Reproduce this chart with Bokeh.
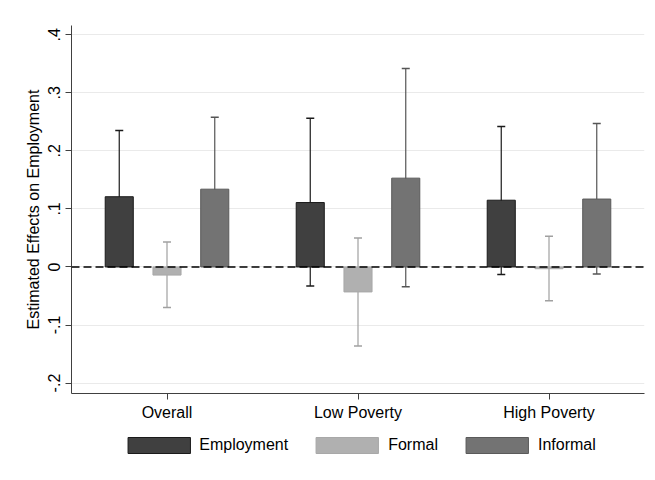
from bokeh.plotting import figure
from bokeh.layouts import column
from bokeh.models import (Range1d, FixedTicker, Span, Whisker, ColumnDataSource,
                          TeeHead, Legend, LegendItem)
from bokeh.embed import file_html
from bokeh.resources import INLINE

categories = ["Overall", "Low Poverty", "High Poverty"]
series_names = ["Employment", "Formal", "Informal"]

employment = [0.121, 0.111, 0.115]
employment_lo = [0.007, -0.033, -0.013]
employment_hi = [0.235, 0.256, 0.242]

formal = [-0.014, -0.043, -0.003]
formal_lo = [-0.070, -0.136, -0.058]
formal_hi = [0.043, 0.050, 0.053]

informal = [0.134, 0.153, 0.117]
informal_lo = [0.010, -0.034, -0.012]
informal_hi = [0.258, 0.342, 0.247]

y_ticks = [-0.2, -0.1, 0.0, 0.1, 0.2, 0.3, 0.4]
y_tick_labels = ["-.2", "-.1", "0", ".1", ".2", ".3", ".4"]

FONT = "Liberation Sans"

p = figure(frame_width=573, frame_height=368, output_backend="svg", toolbar_location=None,
           x_range=Range1d(0.5, 3.5), y_range=Range1d(-0.218, 0.416),
           min_border_left=71, min_border_right=8, min_border_top=25,
           min_border_bottom=35)
p.outline_line_color = None
p.background_fill_color = "white"
p.border_fill_color = "white"

# axes
p.xaxis.ticker = FixedTicker(ticks=[1, 2, 3])
p.xaxis.major_label_overrides = {1: categories[0], 2: categories[1], 3: categories[2]}
p.xaxis.minor_tick_line_color = None
p.xaxis.major_tick_out = 6
p.xaxis.major_tick_in = 0
p.xaxis.major_label_standoff = 4
p.xaxis.axis_line_color = "#404040"
p.xaxis.major_tick_line_color = "#404040"
p.xaxis.major_label_text_font = FONT
p.xaxis.major_label_text_font_size = "16px"
p.xaxis.major_label_text_color = "black"

p.yaxis.ticker = FixedTicker(ticks=y_ticks)
p.yaxis.major_label_overrides = dict(zip(y_ticks, y_tick_labels))
p.yaxis.major_label_orientation = "vertical"
p.yaxis.minor_tick_line_color = None
p.yaxis.major_tick_out = 6
p.yaxis.major_tick_in = 0
p.yaxis.major_label_standoff = 5
p.yaxis.axis_line_color = "#404040"
p.yaxis.major_tick_line_color = "#404040"
p.yaxis.major_label_text_font = FONT
p.yaxis.major_label_text_font_size = "16px"
p.yaxis.major_label_text_color = "black"
p.yaxis.axis_label = "Estimated Effects on Employment"
p.yaxis.axis_label_text_font = FONT
p.yaxis.axis_label_text_font_size = "16px"
p.yaxis.axis_label_text_font_style = "normal"
p.yaxis.axis_label_text_color = "black"
p.yaxis.axis_label_standoff = 4

p.xgrid.grid_line_color = None
p.ygrid.ticker = FixedTicker(ticks=y_ticks)
p.ygrid.grid_line_color = "#eaeaea"
p.ygrid.grid_line_width = 1

offsets = [-0.25, 0.0, 0.25]
bar_w = 0.147
values = [employment, formal, informal]
los = [employment_lo, formal_lo, informal_lo]
his = [employment_hi, formal_hi, informal_hi]
fills = ["#404040", "#b0b0b0", "#737373"]
outlines = ["#1a1a1a", "#a8a8a8", "#5a5a5a"]
whisk = ["#1a1a1a", "#a0a0a0", "#555555"]

for k in range(3):
    xs = [i + 1 + offsets[k] for i in range(len(categories))]
    src = ColumnDataSource(dict(x=xs, top=values[k]))
    p.vbar(x="x", top="top", bottom=0, width=bar_w, source=src,
           fill_color=fills[k], line_color=outlines[k], line_width=1)

p.add_layout(Span(location=0, dimension="width", line_color="black",
                  line_dash="8 4", line_width=1.5))

for k in range(3):
    xs = [i + 1 + offsets[k] for i in range(len(categories))]
    src = ColumnDataSource(dict(x=xs, lo=los[k], hi=his[k]))
    w = Whisker(base="x", lower="lo", upper="hi", source=src,
                line_color=whisk[k], line_width=1.2,
                upper_head=TeeHead(size=8, line_color=whisk[k], line_width=1.5),
                lower_head=TeeHead(size=8, line_color=whisk[k], line_width=1.5))
    p.add_layout(w)

# legend strip below the chart (swatch renderers hold no drawable data)
lg = figure(frame_width=573, frame_height=34, output_backend="svg", toolbar_location=None,
            x_range=Range1d(0, 1), y_range=Range1d(0, 1),
            x_axis_type=None, y_axis_type=None,
            min_border_left=65, min_border_right=14, min_border_top=0,
            min_border_bottom=14)
lg.outline_line_color = None
lg.border_fill_color = "white"
lg.background_fill_color = "white"
items = []
nan = float("nan")
for k in range(3):
    swatch = ColumnDataSource(dict(x=[nan], top=[nan]))
    r = lg.vbar(x="x", top="top", bottom=0, width=0.1, source=swatch,
                fill_color=fills[k], line_color=outlines[k], line_width=1)
    items.append(LegendItem(label=series_names[k], renderers=[r]))

legend = Legend(items=items, orientation="horizontal", location="center",
                glyph_width=78, glyph_height=20, label_standoff=2, spacing=20,
                label_text_font=FONT, label_text_font_size="16px",
                label_text_color="black", border_line_color=None,
                background_fill_alpha=0, padding=4, margin=0)
lg.add_layout(legend)

layout = column(p, lg, spacing=0)
open("out.html", "w").write(file_html(layout, INLINE))
